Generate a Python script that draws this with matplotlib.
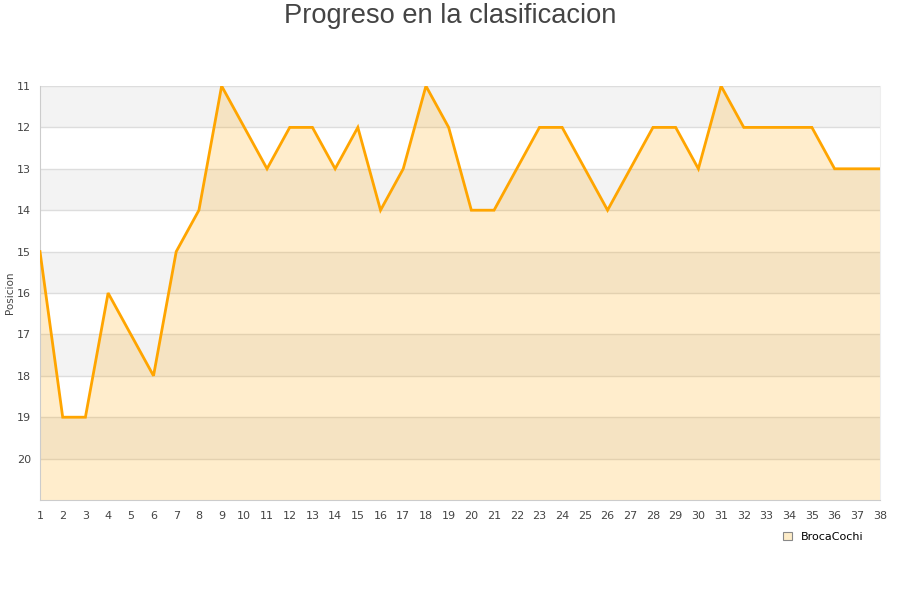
import matplotlib
matplotlib.use("Agg")
import matplotlib.pyplot as plt
from matplotlib.patches import Patch

jornadas = list(range(1, 39))
posiciones = [15, 19, 19, 16, 17, 18, 15, 14, 11, 12, 13, 12, 12, 13, 12, 14, 13, 11, 12, 14,
              14, 13, 12, 12, 13, 14, 13, 12, 12, 13, 11, 12, 12, 12, 12, 13, 13, 13]
serie = "BrocaCochi"
titulo = "Progreso en la clasificacion"
y_ticks = list(range(11, 21))

fig = plt.figure(figsize=(9, 6), dpi=100)
ax = fig.add_axes([40/900, 1-500/600, 840/900, 414/600])

for y0 in range(11, 21, 2):
    ax.axhspan(y0, y0 + 1, color="#f3f3f3", zorder=0, lw=0)
for y in range(11, 21):
    ax.axhline(y, color="#dddddd", lw=1, zorder=1)

ax.fill_between(jornadas, posiciones, 21, color="#ffa500", alpha=0.2, lw=0, zorder=2)
ax.plot(jornadas, posiciones, color="#ffa500", lw=2, zorder=3, solid_joinstyle="miter")

ax.set_xlim(1, 38)
ax.set_ylim(21, 11)
ax.set_xticks(jornadas)
ax.set_yticks(y_ticks)
ax.tick_params(axis="both", length=0, labelsize=8, colors="#444444")
ax.tick_params(axis="x", pad=8)
ax.tick_params(axis="y", pad=6.5)
ax.spines["top"].set_visible(False)
ax.spines["left"].set_color("#cccccc")
ax.spines["bottom"].set_color("#cccccc")
ax.spines["right"].set_color("#eeeeee")

ax.set_ylabel("Posicion", fontsize=7.5, color="#444444")
ax.yaxis.set_label_coords(-25/840, 0.5)

fig.text(0.5, 1-16/600, titulo, ha="center", va="center", fontsize=19.6,
         color="#444444", family="Liberation Sans")

handle = Patch(facecolor="#fdecc8", edgecolor="#888888", lw=0.8)
fig.legend([handle], [serie], loc="center", bbox_to_anchor=(823/900, 1-537/600),
           frameon=False, fontsize=8, handlelength=0.8, handleheight=0.8,
           handletextpad=0.8)

fig.savefig("out.png", dpi=100)
